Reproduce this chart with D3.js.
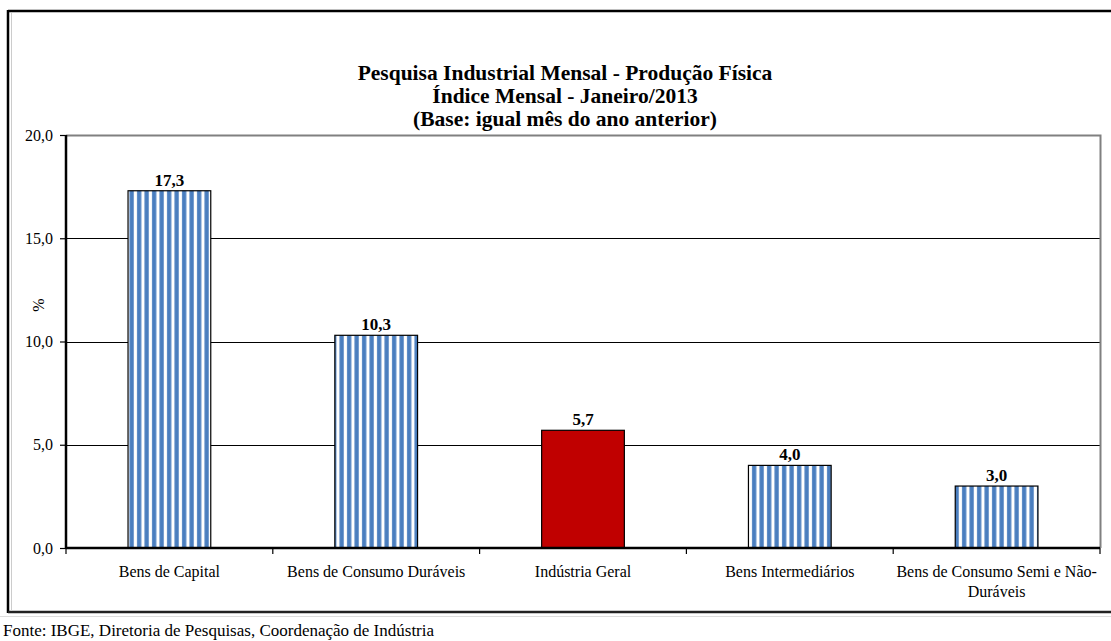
<!DOCTYPE html>
<html>
<head>
<meta charset="utf-8">
<script src="https://cdn.jsdelivr.net/npm/d3@7"></script>
<style>
  body { margin: 0; background: #fff; }
  svg text { font-family: "Liberation Serif", "DejaVu Serif", serif; fill: #000; }
</style>
</head>
<body>
<svg id="chart" width="1111" height="641"></svg>
<script>
// Data
const categories = [
  "Bens de Capital",
  "Bens de Consumo Duráveis",
  "Indústria Geral",
  "Bens Intermediários",
  "Bens de Consumo Semi e Não-Duráveis"
];
const values = [17.3, 10.3, 5.7, 4.0, 3.0];
const yTicks = [0, 5, 10, 15, 20];
const titleLines = [
  "Pesquisa Industrial Mensal - Produção Física",
  "Índice Mensal - Janeiro/2013",
  "(Base: igual mês do ano anterior)"
];
const xLabelLines = [
  ["Bens de Capital"],
  ["Bens de Consumo Duráveis"],
  ["Indústria Geral"],
  ["Bens Intermediários"],
  ["Bens de Consumo Semi e Não-", "Duráveis"]
];
const sourceText = "Fonte: IBGE, Diretoria de Pesquisas, Coordenação de Indústria";

const svg = d3.select("#chart");

// plot area
const plot = { left: 66, right: 1100, top: 135, bottom: 548 };

const xScale = d3
  .scaleBand()
  .domain(categories)
  .range([plot.left, plot.right])
  .paddingInner(0.6)
  .paddingOuter(0.3);

// band used for ticks (no padding)
const xTickScale = d3
  .scaleBand()
  .domain(categories)
  .range([plot.left, plot.right]);

const yScale = d3
  .scaleLinear()
  .domain([0, 20])
  .range([plot.bottom, plot.top]);

const fmt = (v) => v.toFixed(1).replace(".", ",");

// stripe pattern
const defs = svg.append("defs");
const pattern = defs
  .append("pattern")
  .attr("id", "stripes")
  .attr("patternUnits", "userSpaceOnUse")
  .attr("width", 7.5)
  .attr("height", 10);
pattern.append("rect").attr("width", 7.5).attr("height", 10).attr("fill", "#fff");
pattern.append("rect").attr("x", 2).attr("width", 4.3).attr("height", 10).attr("fill", "#4a7ebf");

// outer frame
svg.append("line")
  .attr("x1", 8).attr("x2", 1111).attr("y1", 11).attr("y2", 11)
  .attr("stroke", "#000").attr("stroke-width", 2.5);
svg.append("line")
  .attr("x1", 8).attr("x2", 8).attr("y1", 10).attr("y2", 613)
  .attr("stroke", "#000").attr("stroke-width", 2.5);
svg.append("line")
  .attr("x1", 8).attr("x2", 1111).attr("y1", 612).attr("y2", 612)
  .attr("stroke", "#222").attr("stroke-width", 2.5);
svg.append("line")
  .attr("x1", 0).attr("x2", 1111).attr("y1", 616.5).attr("y2", 616.5)
  .attr("stroke", "#ddd").attr("stroke-width", 1);
svg.append("line")
  .attr("x1", 11.5).attr("x2", 11.5).attr("y1", 13).attr("y2", 611)
  .attr("stroke", "#ccc").attr("stroke-width", 1);

// title
svg.append("g")
  .selectAll("text")
  .data(titleLines)
  .enter()
  .append("text")
  .attr("x", 565)
  .attr("y", (d, i) => 80 + i * 23)
  .attr("text-anchor", "middle")
  .attr("font-size", 21.5)
  .attr("font-weight", "bold")
  .text((d) => d);

// gridlines
svg.append("g")
  .selectAll("line")
  .data(yTicks.filter((t) => t > 0 && t < 20))
  .enter()
  .append("line")
  .attr("x1", plot.left)
  .attr("x2", plot.right)
  .attr("y1", (d) => Math.round(yScale(d)) + 0.5)
  .attr("y2", (d) => Math.round(yScale(d)) + 0.5)
  .attr("stroke", "#000");

// plot border top/right
svg.append("path")
  .attr("d", `M${plot.left},${plot.top + 0.5}H${plot.right + 0.5}V${plot.bottom}`)
  .attr("fill", "none")
  .attr("stroke", "#808080")
  .attr("stroke-width", 2);

// bars
svg.append("g")
  .selectAll("rect")
  .data(values)
  .enter()
  .append("rect")
  .attr("x", (d, i) => xScale(categories[i]))
  .attr("y", (d) => yScale(d))
  .attr("width", xScale.bandwidth())
  .attr("height", (d) => yScale(0) - yScale(d))
  .attr("fill", (d, i) => (i === 2 ? "#c00000" : "url(#stripes)"))
  .attr("stroke", "#000")
  .attr("stroke-width", 1.2);

// value labels
svg.append("g")
  .selectAll("text")
  .data(values)
  .enter()
  .append("text")
  .attr("x", (d, i) => xScale(categories[i]) + xScale.bandwidth() / 2)
  .attr("y", (d) => yScale(d) - 5)
  .attr("text-anchor", "middle")
  .attr("font-size", 17)
  .attr("font-weight", "bold")
  .text((d) => fmt(d));

// y axis
const yAxis = svg
  .append("g")
  .attr("transform", `translate(${plot.left},0)`)
  .call(d3.axisLeft(yScale).tickValues(yTicks).tickSize(6).tickFormat(fmt));
yAxis.select(".domain").attr("stroke", "#000").attr("stroke-width", 2.5)
  .attr("d", `M0,${plot.top}V${plot.bottom}`);
yAxis.selectAll(".tick line").attr("stroke", "#000").attr("stroke-width", 1.2);
yAxis.selectAll(".tick text")
  .attr("font-size", 16)
  .attr("x", -13);

// x axis
const xAxis = svg
  .append("g")
  .attr("transform", `translate(0,${plot.bottom})`)
  .call(d3.axisBottom(xTickScale).tickSize(0).tickFormat(""));
xAxis.select(".domain").attr("stroke", "#000").attr("stroke-width", 2.5)
  .attr("d", `M${plot.left},0H${plot.right}`);

svg.append("g")
  .attr("transform", `translate(0,${plot.bottom})`)
  .selectAll("line")
  .data(d3.range(categories.length + 1))
  .enter()
  .append("line")
  .attr("x1", (i) => plot.left + i * xTickScale.step())
  .attr("x2", (i) => plot.left + i * xTickScale.step())
  .attr("y1", 0)
  .attr("y2", 6)
  .attr("stroke", "#000")
  .attr("stroke-width", 1.2);

// category labels (last one wraps)
const xl = svg.append("g")
  .selectAll("text")
  .data(categories)
  .enter()
  .append("text")
  .attr("text-anchor", "middle")
  .attr("font-size", 16)
  .attr("transform", (d) => `translate(${xTickScale(d) + xTickScale.bandwidth() / 2},${plot.bottom + 29})`);
xl.selectAll("tspan")
  .data((d, i) => xLabelLines[i])
  .enter()
  .append("tspan")
  .attr("x", 0)
  .attr("dy", (d, i) => (i === 0 ? 0 : 20))
  .text((d) => d);

// y label
svg.append("text")
  .attr("transform", "translate(44,305) rotate(-90)")
  .attr("text-anchor", "middle")
  .attr("font-size", 16)
  .text("%");

// source
svg.append("text")
  .attr("x", 3)
  .attr("y", 636)
  .attr("font-size", 17)
  .text(sourceText);
</script>
</body>
</html>
